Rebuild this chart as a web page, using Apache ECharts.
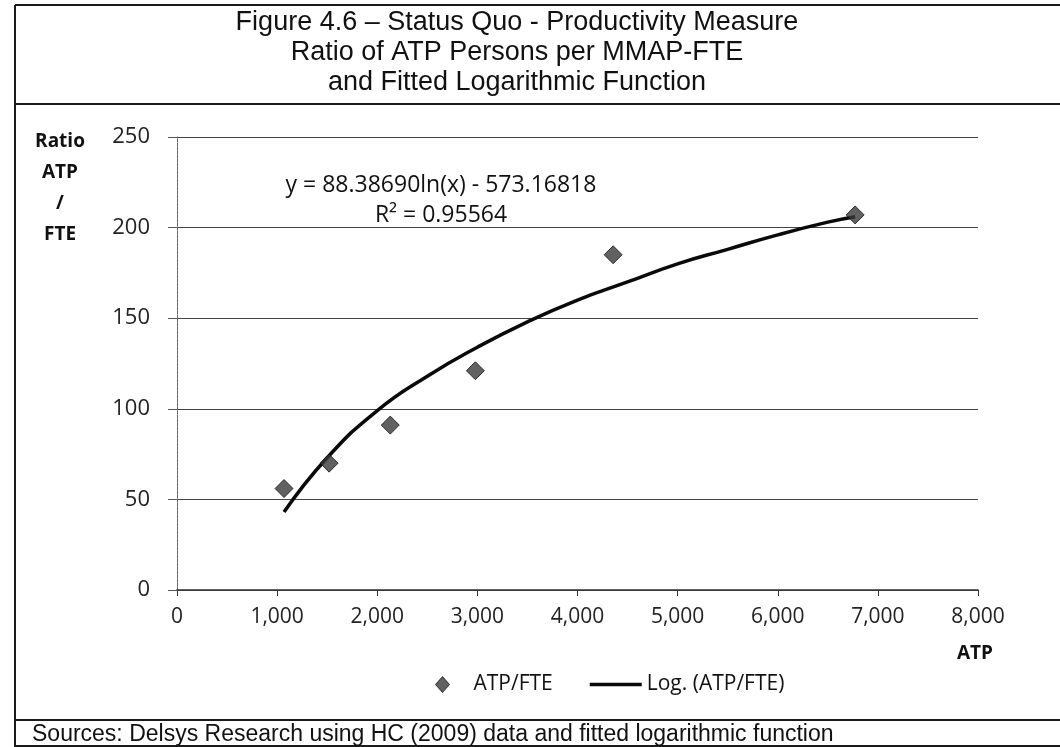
<!DOCTYPE html>
<html>
<head>
<meta charset="utf-8">
<script src="https://cdn.jsdelivr.net/npm/echarts@6/dist/echarts.min.js"></script>
<style>
  html, body { margin: 0; padding: 0; background: #fff; }
  #chart { width: 1060px; height: 747px; }
</style>
</head>
<body>
<div id="chart"></div>
<script>
// ---- data ----
const titleLines = [
  'Figure 4.6 \u2013 Status Quo - Productivity Measure',
  'Ratio of ATP Persons per MMAP-FTE',
  'and Fitted Logarithmic Function'
];
const sourceText = 'Sources: Delsys Research using HC (2009) data and fitted logarithmic function';
const pointATP   = [1069, 1519, 2130, 2980, 4356, 6773];
const pointRatio = [56, 70, 91, 121, 185, 207];
const trendATP   = [1069, 1500, 2000, 2500, 3000, 3500, 4000, 4500, 5000, 5500, 6000, 6500, 6773];
const trendRatio = [43, 73, 99, 118, 134, 148, 160, 170, 180, 188, 196, 203, 206];
const equationLines = ['y = 88.38690ln(x) - 573.16818', 'R\u00B2 = 0.95564'];
const yNameLines = ['Ratio', 'ATP', '/', 'FTE'];
const xName = 'ATP';
const seriesNames = ['ATP/FTE', 'Log. (ATP/FTE)'];

const chart = echarts.init(document.getElementById('chart'), null, { renderer: 'canvas' });

const labelFont = '"Open Sans", "DejaVu Sans", sans-serif';
const titleFont = '"Liberation Sans", Arial, sans-serif';

const graphics = [];
// frame lines
const lineStyle = { stroke: '#1a1a1a', lineWidth: 2 };
graphics.push({ type: 'line', shape: { x1: 15, y1: 5, x2: 1060, y2: 5 }, style: lineStyle, silent: true });
graphics.push({ type: 'line', shape: { x1: 15, y1: 5, x2: 15, y2: 747 }, style: lineStyle, silent: true });
graphics.push({ type: 'line', shape: { x1: 15, y1: 104, x2: 1060, y2: 104 }, style: lineStyle, silent: true });
graphics.push({ type: 'line', shape: { x1: 15, y1: 720, x2: 1060, y2: 720 }, style: lineStyle, silent: true });
graphics.push({ type: 'line', shape: { x1: 15, y1: 746, x2: 1060, y2: 746 }, style: lineStyle, silent: true });
// title
titleLines.forEach((t, i) => {
  graphics.push({ type: 'text', x: 517, y: 23 + i * 30, silent: true,
    style: { text: t, font: '27px ' + titleFont, fill: '#111', align: 'center', verticalAlign: 'middle' } });
});
// footer
graphics.push({ type: 'text', x: 32, y: 735, silent: true,
  style: { text: sourceText, font: '23px ' + titleFont, fill: '#111', align: 'left', verticalAlign: 'middle' } });
// y axis name (stacked)
yNameLines.forEach((t, i) => {
  graphics.push({ type: 'text', x: 60, y: 142 + i * 31, silent: true,
    style: { text: t, font: 'bold 19px ' + labelFont, fill: '#111', align: 'center', verticalAlign: 'middle' } });
});
// equation annotation
equationLines.forEach((t, i) => {
  graphics.push({ type: 'text', x: 441, y: 185 + i * 30, silent: true,
    style: { text: t, font: '23px ' + labelFont, fill: '#111', align: 'center', verticalAlign: 'middle' } });
});

chart.setOption({
  animation: false,
  backgroundColor: '#fff',
  grid: { left: 177, right: 82, top: 137, bottom: 157, containLabel: false },
  xAxis: {
    type: 'value', min: 0, max: 8000, interval: 1000,
    name: xName, nameLocation: 'end', nameGap: 0,
    nameTextStyle: { fontFamily: labelFont, fontWeight: 'bold', fontSize: 19, color: '#111',
      align: 'center', verticalAlign: 'top', padding: [54, 6, 0, 0] },
    axisLine: { show: true, lineStyle: { color: '#333', width: 1.5 } },
    axisTick: { show: true, length: 6, lineStyle: { color: '#333' } },
    axisLabel: { margin: 17, fontFamily: labelFont, fontSize: 21, color: '#222',
      formatter: v => v.toLocaleString('en-US') },
    splitLine: { show: false }
  },
  yAxis: {
    type: 'value', min: 0, max: 250, interval: 50,
    axisLine: { show: true, lineStyle: { color: '#666', width: 1, type: [3, 1] } },
    axisTick: { show: true, length: 9, lineStyle: { color: '#555' } },
    axisLabel: { margin: 27, fontFamily: labelFont, fontSize: 22, color: '#222' },
    splitLine: { show: true, lineStyle: { color: '#444', width: 1.2 } }
  },
  legend: {
    left: 430, top: 669,
    itemWidth: 52, itemHeight: 16, itemGap: 37,
    symbolKeepAspect: true,
    textStyle: { fontFamily: labelFont, fontSize: 21, color: '#111' },
    data: [
      { name: seriesNames[0], icon: 'path://M7,0L14,8L7,16L0,8Z',
        itemStyle: { color: '#3a3a3a', borderColor: '#111', borderWidth: 1 } },
      { name: seriesNames[1], icon: 'path://M0,0L52,0L52,3.5L0,3.5Z' }
    ]
  },
  series: [
    {
      name: seriesNames[0], type: 'scatter',
      symbol: 'diamond', symbolSize: 18,
      itemStyle: { color: '#3a3a3a', borderColor: '#111', borderWidth: 1 },
      data: pointATP.map((x, i) => [x, pointRatio[i]]),
      z: 3
    },
    {
      name: seriesNames[1], type: 'line', smooth: true,
      showSymbol: false, symbol: 'none',
      lineStyle: { color: '#0a0a0a', width: 3.5 },
      itemStyle: { color: '#0a0a0a' },
      data: trendATP.map((x, i) => [x, trendRatio[i]]),
      z: 2
    }
  ],
  graphic: graphics
});
</script>
</body>
</html>
